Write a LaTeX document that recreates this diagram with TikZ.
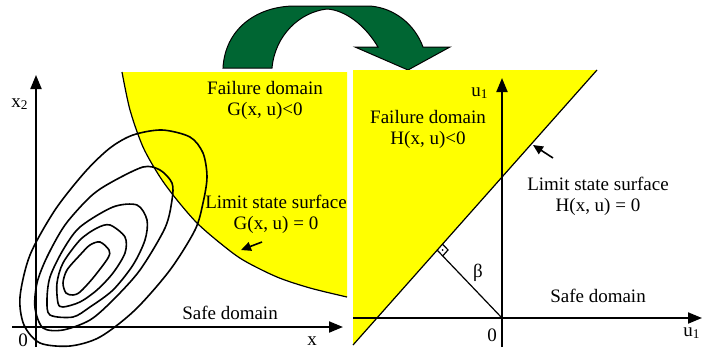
\documentclass[tikz,border=0pt]{standalone}
\usepackage{fontspec}
\setmainfont{Liberation Serif}
\usepackage{xcolor}
\usepackage{tikz}
\usetikzlibrary{calc, arrows.meta}

\definecolor{failyellow}{RGB}{255,255,0}
\definecolor{mapgreen}{RGB}{0,102,51}

\begin{document}
\begin{tikzpicture}[x=0.5pt, y=-0.5pt,
    every node/.style={font=\fontsize{9.5}{10.5}\selectfont, inner sep=0pt, align=center},
    axis/.style={line width=1pt, -{Triangle[length=7pt,width=5.5pt]}},
    pointer/.style={line width=0.8pt, -{Triangle[length=5pt,width=4.5pt]}},
    contour/.style={line width=0.8pt},
    limit/.style={line width=0.6pt}]

    \useasboundingbox (0,0) rectangle (702,349);

    % Mapping arrow
    \filldraw[fill=mapgreen, draw=black, line width=0.5pt]
        (223,68) .. controls (225,30) and (255,7) .. (293,6) -- (370,6)
        .. controls (395,8) and (415,25) .. (423,47) -- (450,47) -- (408,70)
        -- (355,47) -- (378,47) .. controls (365,25) and (345,10) .. (327,9)
        .. controls (300,12) and (275,35) .. (272,68) -- cycle;

    % Physical space
    \fill[failyellow] (122,72) -- (347,72) -- (347,297)
        -- plot[smooth] coordinates {(347,297) (310,288) (277,277) (243,260) (220,243) (197,223) (177,200) (160,177) (143,147) (130,110) (122,72)} -- cycle;
    \draw[limit] plot[smooth] coordinates {(122,72) (130,110) (143,147) (160,177) (177,200) (197,223) (220,243) (243,260) (277,277) (310,288) (347,297)};

    \draw[contour] plot[smooth cycle] coordinates {(162,130) (190,137) (203,153) (207,177) (203,203) (195,230) (170,270) (135,310) (100,337) (70,346) (40,343) (24,325) (20,297) (30,255) (55,210) (85,172) (110,148) (133,135)};
    \draw[contour] plot[smooth cycle] coordinates {(143,167) (160,170) (172,183) (172,200) (165,228) (140,270) (113,300) (90,320) (63,330) (43,328) (35,308) (37,283) (47,257) (65,225) (90,197) (110,183)};
    \draw[contour] plot[smooth cycle] coordinates {(137,205) (147,220) (145,240) (133,265) (113,290) (90,307) (73,317) (50,315) (47,300) (50,277) (63,250) (80,227) (113,207)};
    \draw[contour] plot[smooth cycle] coordinates {(110,225) (125,237) (125,253) (113,273) (97,290) (80,302) (63,307) (58,303) (57,283) (63,263) (80,240) (97,228)};
    \draw[contour] plot[smooth cycle] coordinates {(100,242) (109,250) (108,258) (93,278) (80,292) (73,295) (66,293) (63,283) (67,270) (80,255) (90,245)};

    \coordinate (xs) at (12,327);
    \coordinate (xe) at (343,327);
    \coordinate (ys) at (36,347);
    \coordinate (ye) at (36,75);
    \draw[axis] (xs) -- (xe);
    \draw[axis] (ys) -- (ye);

    \node (x2) at (20,104) {x\textsubscript{2}};
    \node (x0) at (23,340) {0};
    \node (xl) at (312,341) {x};
    \node (safeL) at (230,313) {Safe domain};
    \node (failL) at (265,100) {Failure domain\\G(x, u)<0};
    \node (limL) at (276,214) {Limit state surface\\G(x, u) = 0};

    \coordinate (pL1) at (262,242);
    \coordinate (pL2) at (241,250);
    \draw[pointer] (pL1) -- (pL2);

    % Standard normal space
    \coordinate (top) at (597,70);
    \coordinate (bot) at (353,345);
    \fill[failyellow] (353,70) -- (top) -- (bot) -- cycle;
    \draw[limit] (top) -- (bot);

    \coordinate (us) at (353,318);
    \coordinate (ue) at (702,318);
    \coordinate (vs) at (502,347);
    \coordinate (ve) at (502,78);
    \draw[axis] (us) -- (ue);
    \draw[axis] (vs) -- (ve);

    \coordinate (o) at (502,318);
    \coordinate (foot) at ($(top)!0.655!(bot)$);
    \draw[limit] (o) -- (foot);
    \coordinate (ra1) at ($(foot)!4pt!(top)$);
    \coordinate (ra2) at ($(foot)!4pt!(o)$);
    \draw[line width=0.6pt] (ra1) -- ($(ra1)+(ra2)-(foot)$) -- (ra2);
    \fill ($(ra1)!0.5!(ra2)$) circle (0.5pt);

    \node (u1t) at (480,93) {u\textsubscript{1}};
    \node (u1b) at (692,333) {u\textsubscript{1}};
    \node (u0) at (492,335) {0};
    \node (beta) at (478,273) {β};
    \node (failR) at (428,129) {Failure domain\\H(x, u)<0};
    \node (limR) at (598,196) {Limit state surface\\H(x, u) = 0};
    \node (safeR) at (598,296) {Safe domain};

    \coordinate (pR1) at (553,158);
    \coordinate (pR2) at (533,145);
    \draw[pointer] (pR1) -- (pR2);
\end{tikzpicture}
\end{document}
